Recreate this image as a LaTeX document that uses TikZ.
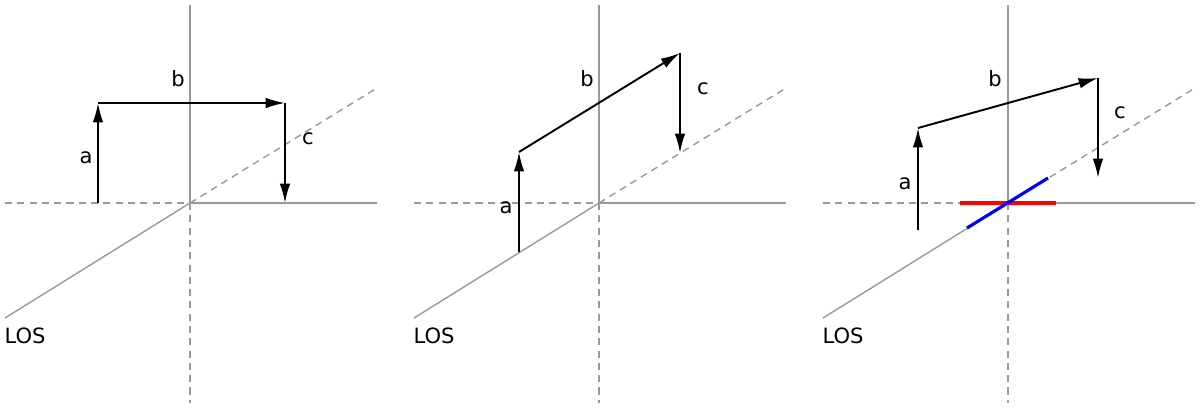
\documentclass[tikz,border=0pt]{standalone}
\usepackage{fontspec}
\setmainfont{DejaVu Sans}
\usetikzlibrary{arrows,arrows.meta,positioning}
\tikzset{
      axis/.style = {gray!80, line width=0.8pt},
      axisdash/.style = {gray!80, line width=0.8pt, dash pattern=on 4pt off 3pt},
      vec/.style = {black, line width=1.1pt, -{Latex[length=11pt,width=6pt]}},
      lbl/.style = {font=\large},
    }
\newcommand{\axes}[1]{%
        \coordinate (o#1) at (0,0);
        \draw[axis] (o#1) -- (0,-198);
        \draw[axisdash] (o#1) -- (0,200);
        \draw[axisdash] (-185,0) -- (o#1);
        \draw[axis] (o#1) -- (187,0);
        \draw[axis] (-185,115) -- (o#1);
        \draw[axisdash] (o#1) -- (187,-115);
        \node[lbl] (los#1) at (-165,133) {LOS};
}
\begin{document}
\begin{tikzpicture}[x=0.02cm,y=-0.02cm]
        \useasboundingbox (0,0) rectangle (1200,407);
        % first panel
        \begin{scope}[shift={(190,203)}]
        \axes{1}
        \coordinate (p1) at (-92,0);
        \coordinate (q1) at (-92,-100);
        \coordinate (r1) at (95,-100);
        \coordinate (s1) at (95,0);
        \draw[vec] (p1) -- (q1);
        \draw[vec] (q1) -- (r1);
        \draw[vec] (r1) -- (s1);
        \node[lbl] (a1) at (-104,-45) {a};
        \node[lbl] (b1) at (-12,-124) {b};
        \node[lbl] (c1) at (118,-64) {c};
        \end{scope}
        % second panel
        \begin{scope}[shift={(599,203)}]
        \axes{2}
        \coordinate (p2) at (-80,49);
        \coordinate (q2) at (-80,-51);
        \coordinate (r2) at (81,-150);
        \coordinate (s2) at (81,-50);
        \draw[vec] (p2) -- (q2);
        \draw[vec] (q2) -- (r2);
        \draw[vec] (r2) -- (s2);
        \node[lbl] (a2) at (-93,5) {a};
        \node[lbl] (b2) at (-12,-124) {b};
        \node[lbl] (c2) at (104,-114) {c};
        \end{scope}
        % third panel
        \begin{scope}[shift={(1008,203)}]
        \axes{3}
        \draw[red, line width=1.8pt] (-48,0) -- (48,0);
        \draw[blue, line width=1.8pt] (-41,25) -- (40,-25);
        \coordinate (p3) at (-90,27);
        \coordinate (q3) at (-90,-75);
        \coordinate (r3) at (90,-125);
        \coordinate (s3) at (90,-25);
        \draw[vec] (p3) -- (q3);
        \draw[vec] (q3) -- (r3);
        \draw[vec] (r3) -- (s3);
        \node[lbl] (a3) at (-103,-19) {a};
        \node[lbl] (b3) at (-13,-124) {b};
        \node[lbl] (c3) at (112,-90) {c};
        \end{scope}
\end{tikzpicture}
\end{document}
